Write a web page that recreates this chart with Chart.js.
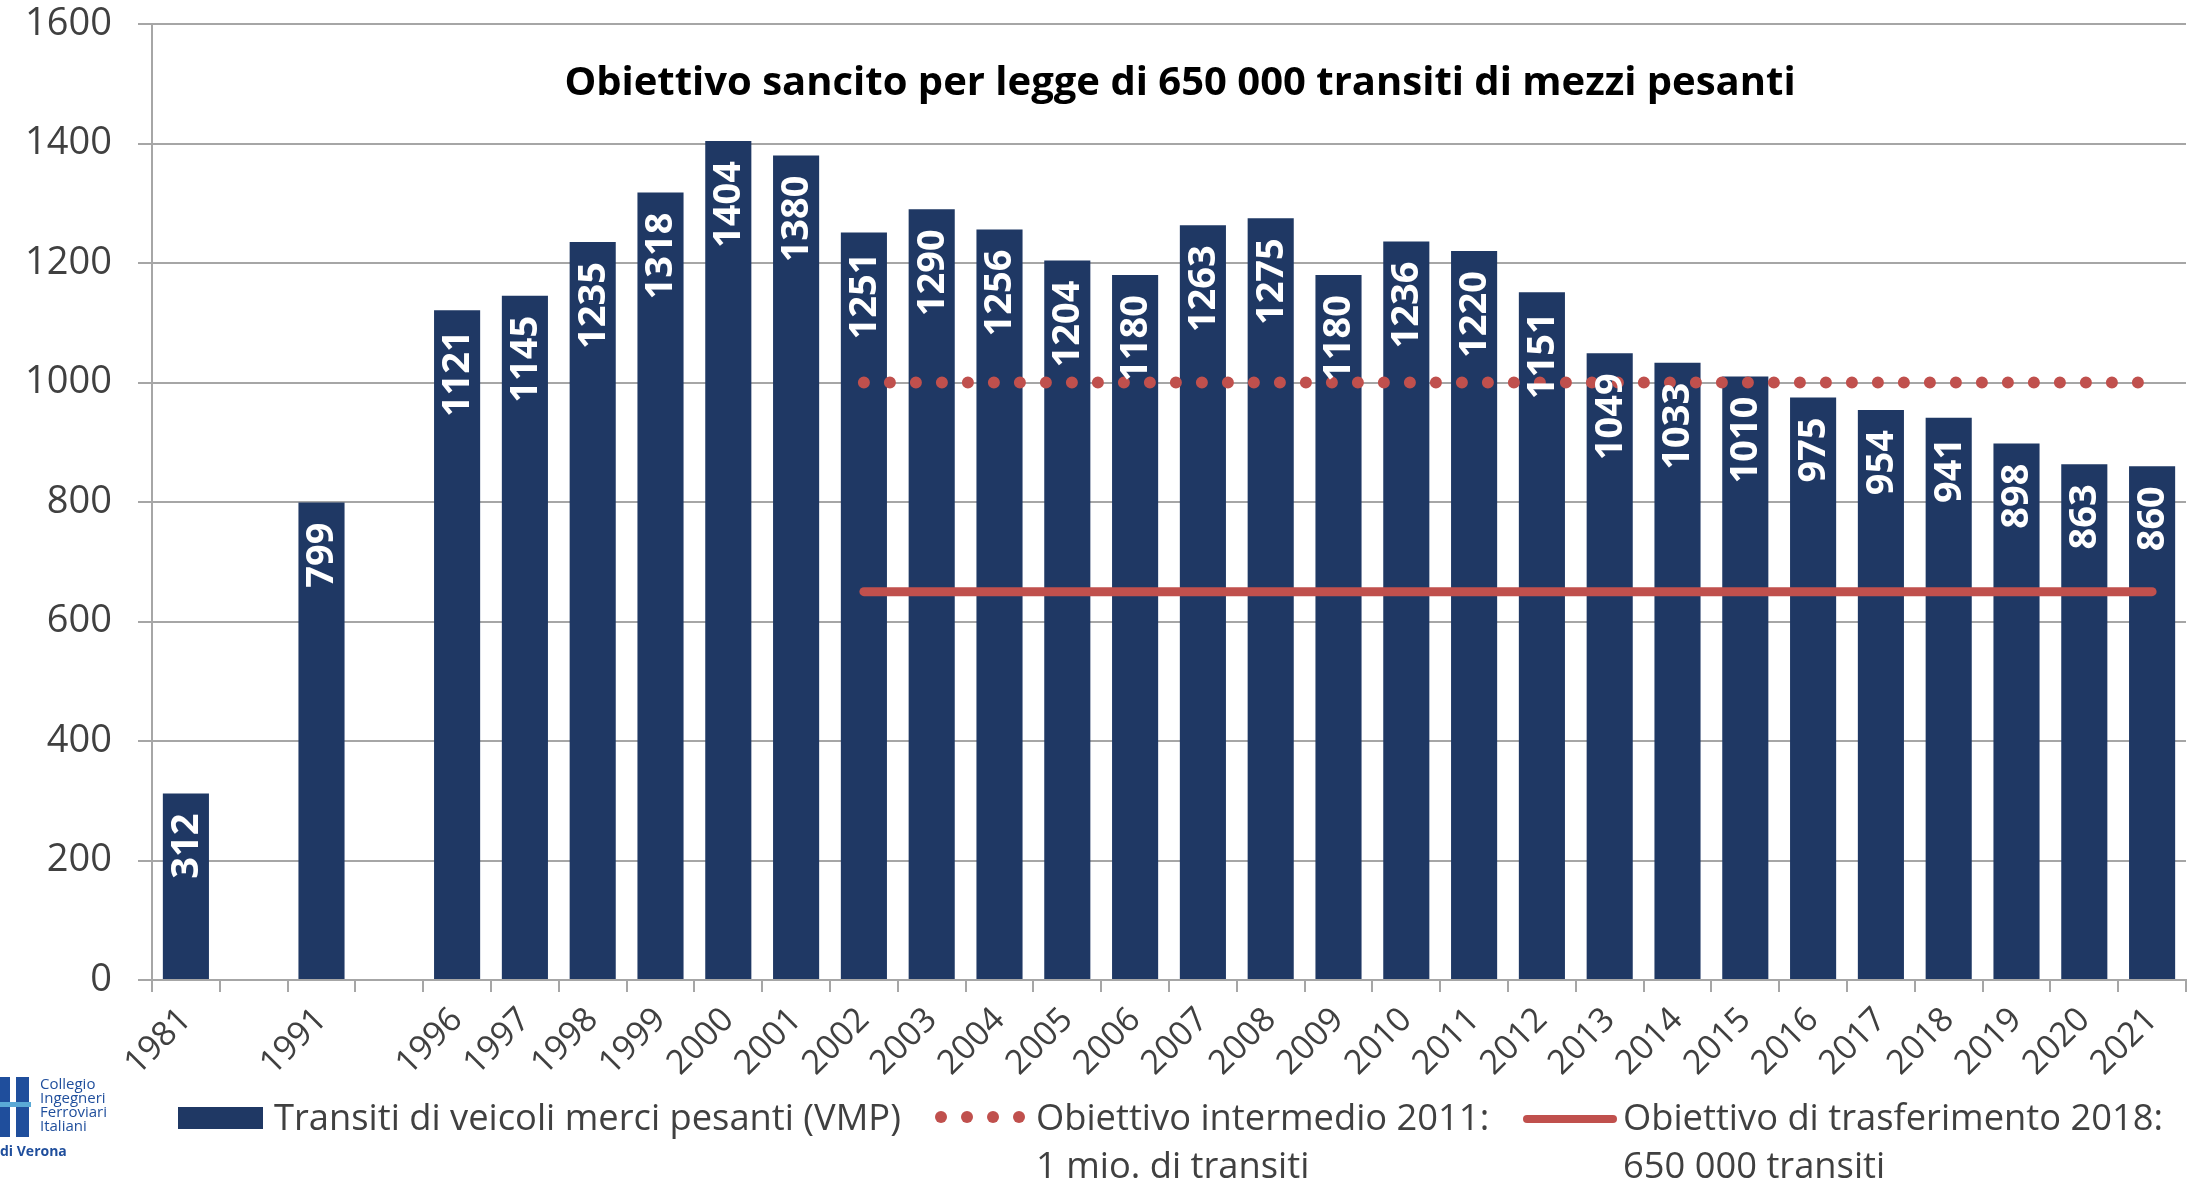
<!DOCTYPE html>
<html>
<head>
<meta charset="utf-8">
<script src="https://cdn.jsdelivr.net/npm/chart.js@4.4.1/dist/chart.umd.min.js"></script>
<style>
  body { margin: 0; background: #fff; }
  #wrap { position: relative; width: 2201px; height: 1182px; font-family: "Open Sans", sans-serif; color: #404040; }
  #wrap canvas { position: absolute; left: 0; top: 0; }
  .lg { position: absolute; font-size: 36.3px; line-height: 48px; white-space: nowrap; }
  .sw-bar { position: absolute; left: 178px; top: 1107px; width: 85px; height: 22px; background: #1f3864; }
  .dot { position: absolute; top: 1111px; width: 12px; height: 12px; border-radius: 50%; background: #c0504d; }
  .sw-line { position: absolute; left: 1523px; top: 1115px; width: 94px; height: 8px; border-radius: 4px; background: #c0504d; }
  .logo { position: absolute; color: #1f4e9c; font-size: 15px; line-height: 14px; }
  .logo-ic { position: absolute; background: #1f4e9c; }
</style>
</head>
<body>
<div id="wrap">
  <canvas id="myChart"></canvas>

  <div class="sw-bar"></div>
  <div class="lg" style="left:274px; top:1092px;">Transiti di veicoli merci pesanti (VMP)</div>

  <div class="dot" style="left:935px"></div>
  <div class="dot" style="left:961px"></div>
  <div class="dot" style="left:987px"></div>
  <div class="dot" style="left:1013px"></div>
  <div class="lg" style="left:1036px; top:1092px;">Obiettivo intermedio 2011:<br>1 mio. di transiti</div>

  <div class="sw-line"></div>
  <div class="lg" style="left:1623px; top:1092px;">Obiettivo di trasferimento 2018:<br>650 000 transiti</div>

  <!-- logo in basso a sinistra -->
  <div class="logo-ic" style="left:0; top:1077px; width:10px; height:60px;"></div>
  <div class="logo-ic" style="left:16px; top:1077px; width:13px; height:60px;"></div>
  <div class="logo-ic" style="left:0; top:1102px; width:31px; height:5px; background:#5aa9d6;"></div>
  <div class="logo" style="left:40px; top:1076px;">Collegio<br>Ingegneri<br>Ferroviari<br>Italiani</div>
  <div class="logo" style="left:0; top:1144px; font-weight:bold; font-size:14px;">di Verona</div>
</div>

<script>

// anni sull'asse x (le caselle vuote sono i buchi tra 1981, 1991 e 1996)
var anni = ['1981', '', '1991', '', '1996', '1997', '1998', '1999', '2000', '2001', '2002', '2003',
            '2004', '2005', '2006', '2007', '2008', '2009', '2010', '2011', '2012', '2013', '2014',
            '2015', '2016', '2017', '2018', '2019', '2020', '2021'];

// transiti VMP in migliaia
var transiti = [312, null, 799, null, 1121, 1145, 1235, 1318, 1404, 1380, 1251, 1290,
                1256, 1204, 1180, 1263, 1275, 1180, 1236, 1220, 1151, 1049, 1033,
                1010, 975, 954, 941, 898, 863, 860];

// obiettivi (dal 2002 al 2021)
var obiettivoIntermedio = [null, null, null, null, null, null, null, null, null, null, 1000, 1000,
                           1000, 1000, 1000, 1000, 1000, 1000, 1000, 1000, 1000, 1000, 1000,
                           1000, 1000, 1000, 1000, 1000, 1000, 1000];
var obiettivoTrasferimento = [null, null, null, null, null, null, null, null, null, null, 650, 650,
                              650, 650, 650, 650, 650, 650, 650, 650, 650, 650, 650,
                              650, 650, 650, 650, 650, 650, 650];

var yTicks = [0, 200, 400, 600, 800, 1000, 1200, 1400, 1600];

var titolo = 'Obiettivo sancito per legge di 650 000 transiti di mezzi pesanti';

const BLU = '#1f3864';
const ROSSO = '#c0504d';
const GRIGIO = '#a6a6a6';
const FONT = 'Open Sans';

// etichette bianche ruotate dentro le barre
const etichetteBarre = {
	id: 'etichetteBarre',
	afterDatasetsDraw(chart){
		const ctx = chart.ctx;
		const meta = chart.getDatasetMeta(2);   // dataset delle barre
		ctx.save();
		ctx.fillStyle = '#ffffff';
		ctx.font = 'bold 38px ' + FONT;
		ctx.textAlign = 'right';
		ctx.textBaseline = 'middle';
		meta.data.forEach(function(bar, i){
			if(transiti[i] == null) return;
			ctx.save();
			ctx.translate(bar.x + 1, bar.y + 20);
			ctx.rotate(-Math.PI / 2);
			ctx.fillText(String(transiti[i]), 0, 0);
			ctx.restore();
		});
		ctx.restore();
	}
};

// titolo dentro l'area del grafico
const titoloInterno = {
	id: 'titoloInterno',
	afterDraw(chart){
		const ctx = chart.ctx;
		const area = chart.chartArea;
		ctx.save();
		ctx.fillStyle = '#000000';
		ctx.font = 'bold 40px ' + FONT;
		ctx.textAlign = 'center';
		ctx.textBaseline = 'middle';
		ctx.fillText(titolo, (area.left + area.right) / 2 + 11, area.top + 60);
		ctx.restore();
	}
};

const ctx = document.getElementById('myChart').getContext('2d');
const chart = new Chart(ctx, {
	type: 'bar',
	data: {
		labels: anni,
		datasets: [{
			type: 'line',
			label: 'Obiettivo intermedio 2011: 1 mio. di transiti',
			data: obiettivoIntermedio,
			borderColor: ROSSO,
			borderWidth: 12,
			borderDash: [0, 26],
			borderCapStyle: 'round',
			pointRadius: 0,
			order: 1
		},{
			type: 'line',
			label: 'Obiettivo di trasferimento 2018: 650 000 transiti',
			data: obiettivoTrasferimento,
			borderColor: ROSSO,
			borderWidth: 9,
			borderCapStyle: 'round',
			pointRadius: 0,
			order: 1
		},{
			label: 'Transiti di veicoli merci pesanti (VMP)',
			data: transiti,
			backgroundColor: BLU,
			barPercentage: 0.68,
			categoryPercentage: 1,
			order: 2
		}]
	},
	options: {
		responsive: true,
		maintainAspectRatio: false,
		animation: false,
		layout: { padding: { top: 24, right: 15, bottom: 102, left: 0 } },
		plugins: {
			legend: { display: false },
			title: { display: false },
			tooltip: { enabled: false }
		},
		scales: {
			x: {
				grid: { drawOnChartArea: false, drawTicks: true, tickLength: 12, color: GRIGIO, lineWidth: 2, offset: true },
				border: { color: GRIGIO, width: 2 },
				ticks: { autoSkip: false, maxRotation: 45, minRotation: 45, color: '#404040', font: { family: FONT, size: 34 }, padding: 8 },
				afterFit(scale){ scale.height = 100; scale.paddingLeft = 0; scale.paddingRight = 0; }
			},
			y: {
				min: 0,
				max: 1600,
				afterBuildTicks(scale){ scale.ticks = yTicks.map(function(v){ return { value: v }; }); },
				ticks: {
					color: '#404040',
					font: { family: FONT, size: 38 },
					padding: 26,
					callback: function(v){ return String(v); }
				},
				grid: { color: GRIGIO, lineWidth: 2, tickLength: 14 },
				border: { color: GRIGIO, width: 2 },
				afterFit(scale){ scale.width = 152; scale.paddingTop = 0; scale.paddingBottom = 0; }
			}
		}
	},
	plugins: [etichetteBarre, titoloInterno]
});

</script>
</body>
</html>
